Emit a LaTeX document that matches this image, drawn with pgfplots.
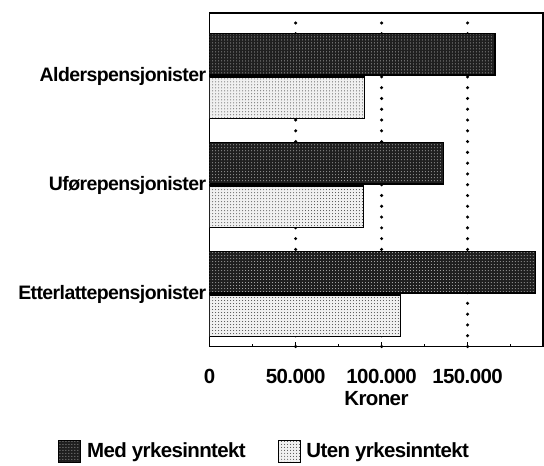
\documentclass[border=0pt]{standalone}
\usepackage{fontspec}
\setmainfont{Liberation Sans}[LetterSpace=-3]
\usepackage{pgfplots}
\pgfplotsset{compat=1.18}
\usetikzlibrary{patterns}

\newcommand{\lab}{\fontsize{19.5}{21}\selectfont\bfseries}
\newcommand{\labbig}{\fontsize{20.5}{22}\selectfont\bfseries}

\begin{document}
\begin{tikzpicture}
\begin{axis}[
  scale only axis, width=334pt, height=334pt,
  xbar, bar width=0.38,
  xmin=0, xmax=194000, ymin=-0.48, ymax=2.58,
  ytick={0,1,2}, minor ytick={},
  yticklabels={Etterlattepensjonister, Uførepensjonister, Alderspensjonister},
  xtick={50000,100000,150000},
  xticklabels={50.000, 100.000, 150.000},
  extra x ticks={0}, extra x tick labels={0},
  extra x tick style={grid=none},
  scaled x ticks=false,
  minor xtick={25000,75000,125000,175000},
  xtick pos=bottom, ytick pos=left,
  tick align=inside, major tick length=5pt, minor tick length=2pt,
  tick style={line width=1.6pt, black},
  ytick style={draw=none},
  xmajorgrids,
  grid style={line width=3.4pt, dash pattern=on 0pt off 10.8pt, line cap=round, black},
  axis line style={line width=1.6pt},
  yticklabel style={font=\lab},
  xticklabel style={font=\labbig, yshift=-19pt},
  xlabel={Kroner}, xlabel style={font=\labbig, yshift=-1pt},
  legend columns=2,
  legend style={at={(axis description cs:0.165,-0.314)}, anchor=center,
    draw=none, font=\labbig,
    /tikz/every odd column/.append style={column sep=4pt},
    /tikz/every even column/.append style={column sep=30pt}},
  sq/.style={legend image code/.code={
    \draw[##1, line width=0.8pt] (0pt,-11pt) rectangle (22pt,11pt);}},
]
\addplot[draw=black, line width=1.6pt, fill=black!88, bar shift=0.2,
  postaction={pattern=dots, pattern color=white!75!black}, sq]
  coordinates {(189500,0) (136000,1) (166000,2)};
\addplot[draw=black, line width=1.6pt, fill=black!6, bar shift=-0.2,
  postaction={pattern=dots, pattern color=black!75}, sq]
  coordinates {(111000,0) (89500,1) (90000,2)};
\legend{Med yrkesinntekt, Uten yrkesinntekt}
\end{axis}
\path ([shift={(-210pt,-119pt)}]current axis.south west)
  rectangle ([shift={(0pt,13pt)}]current axis.north east);
\end{tikzpicture}
\end{document}
